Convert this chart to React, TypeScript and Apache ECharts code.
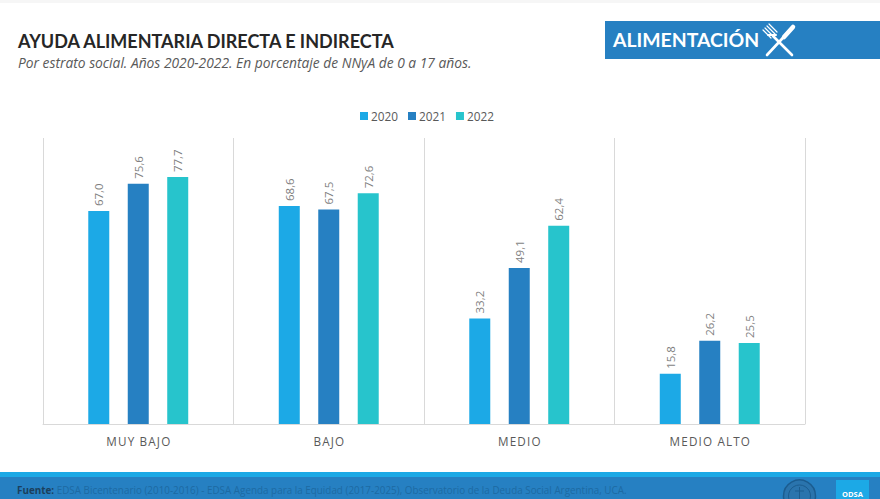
import React, { useEffect, useRef } from "react";
import * as echarts from "echarts";

const categories = ["MUY BAJO", "BAJO", "MEDIO", "MEDIO ALTO"];
const seriesNames = ["2020", "2021", "2022"];
const values2020 = [67.0, 68.6, 33.2, 15.8];
const values2021 = [75.6, 67.5, 49.1, 26.2];
const values2022 = [77.7, 72.6, 62.4, 25.5];
const colors = ["#1CA9E6", "#2680C2", "#27C4CC"];
const titleText = "AYUDA ALIMENTARIA DIRECTA E INDIRECTA";
const subtitleText = "Por estrato social. Años 2020-2022. En porcentaje de NNyA de 0 a 17 años.";
const badgeText = "ALIMENTACIÓN";
const sourceLead = "Fuente:";
const sourceText = " EDSA Bicentenario (2010-2016) - EDSA Agenda para la Equidad (2017-2025), Observatorio de la Deuda Social Argentina, UCA.";
const FONT = "'Open Sans', sans-serif";
const HEAD_FONT = "Lato, sans-serif";

const stroke = (x1: number, y1: number, x2: number, y2: number, lineWidth: number) => ({
  type: "line",
  shape: { x1, y1, x2, y2 },
  style: { stroke: "#ffffff", lineWidth, lineCap: "round" },
  silent: true,
});

export default function App() {
  const ref = useRef<HTMLDivElement>(null);
  useEffect(() => {
    const chart = echarts.init(ref.current!, undefined, { renderer: "svg" });
    const mk = (name: string, data: number[], color: string) => ({
      name,
      type: "bar",
      data,
      barWidth: 21,
      barGap: "88%",
      itemStyle: { color },
      label: {
        show: true,
        position: "top",
        rotate: 90,
        distance: 5,
        align: "left",
        verticalAlign: "middle",
        color: "#7f7f7f",
        fontFamily: FONT,
        fontSize: 11.5,
        formatter: (p: any) => p.value.toFixed(1).replace(".", ","),
      },
    });
    chart.setOption({
      animation: false,
      backgroundColor: "#ffffff",
      title: [
        { text: titleText, left: 18, top: 32, padding: 0, textStyle: { fontFamily: HEAD_FONT, fontSize: 18, fontWeight: 700, color: "#262626" } },
        { text: subtitleText, left: 18, top: 55, padding: 0, textStyle: { fontFamily: FONT, fontSize: 13.8, fontWeight: 400, fontStyle: "italic", color: "#595959" } },
      ],
      legend: {
        data: seriesNames,
        top: 105,
        left: 355,
        itemWidth: 8,
        itemHeight: 8,
        itemGap: 10,
        icon: "rect",
        textStyle: { fontFamily: FONT, fontSize: 11.8, color: "#595959", padding: [0, 0, 0, -2] },
      },
      grid: { left: 43, right: 75, top: 138, bottom: 75 },
      xAxis: {
        type: "category",
        data: categories,
        axisLine: { show: true, lineStyle: { color: "#d9d9d9" } },
        axisTick: { show: false },
        splitLine: { show: true, lineStyle: { color: "#d9d9d9" } },
        axisLabel: { fontFamily: FONT, fontSize: 11.7, color: "#595959", margin: 11, formatter: (v: string) => v.split("").join("\u200a") },
      },
      yAxis: { type: "value", min: 0, max: 90, show: false, splitLine: { show: false } },
      series: [
        mk(seriesNames[0], values2020, colors[0]),
        mk(seriesNames[1], values2021, colors[1]),
        mk(seriesNames[2], values2022, colors[2]),
      ],
      graphic: [
        { type: "rect", shape: { x: 0, y: 0, width: 880, height: 3 }, style: { fill: "#f6f6f6" }, silent: true },
        { type: "rect", shape: { x: 605, y: 21, width: 275, height: 38 }, style: { fill: "#2680C2" }, silent: true },
        { type: "text", x: 613, y: 30, style: { text: badgeText, fill: "#ffffff", fontFamily: HEAD_FONT, fontSize: 19.4, fontWeight: 700 }, silent: true },
        stroke(793, 27, 767, 55, 2.6),
        stroke(793, 27, 784, 37, 4.5),
        stroke(773, 36, 792, 55, 2.6),
        stroke(763, 30, 771, 38, 1.2),
        stroke(765, 28, 773, 36, 1.2),
        stroke(767, 26, 775, 34, 1.2),
        stroke(769, 24, 777, 32, 1.2),
        stroke(768, 35, 776, 35, 2),
        { type: "rect", shape: { x: 0, y: 472, width: 880, height: 5 }, style: { fill: "#1CA9E6" }, silent: true },
        { type: "rect", shape: { x: 0, y: 477, width: 880, height: 22 }, style: { fill: "#2680C2" }, silent: true },
        {
          type: "text", x: 17, y: 485,
          style: {
            text: `{a|${sourceLead}}{b|${sourceText}}`,
            fontFamily: FONT,
            rich: {
              a: { fontFamily: FONT, fontSize: 9.9, fontWeight: 700, fill: "#1b3f5c", color: "#1b3f5c" },
              b: { fontFamily: FONT, fontSize: 9.9, fill: "#1d6aa3", color: "#1d6aa3" },
            },
          },
          silent: true,
        },
        { type: "circle", shape: { cx: 799.5, cy: 496, r: 16 }, style: { fill: "#2a74ad", stroke: "#1b5c8f", lineWidth: 1.5 }, silent: true },
        { type: "circle", shape: { cx: 799.5, cy: 496, r: 11 }, style: { fill: "none", stroke: "#1b5c8f", lineWidth: 1 }, silent: true },
        { type: "line", shape: { x1: 799.5, y1: 487, x2: 799.5, y2: 499 }, style: { stroke: "#1b5c8f", lineWidth: 1 }, silent: true },
        { type: "line", shape: { x1: 795, y1: 491, x2: 804, y2: 491 }, style: { stroke: "#1b5c8f", lineWidth: 1 }, silent: true },
        { type: "rect", shape: { x: 836, y: 480, width: 33, height: 19 }, style: { fill: "#1CA9E6" }, silent: true },
        { type: "text", x: 842, y: 490, style: { text: "ODSA", fill: "#ffffff", fontFamily: FONT, fontSize: 7.5, fontWeight: 700 }, silent: true },
      ],
    });
    return () => chart.dispose();
  }, []);
  return <div ref={ref} style={{ position: "absolute", left: 0, top: 0, width: 880, height: 499 }} />;
}
